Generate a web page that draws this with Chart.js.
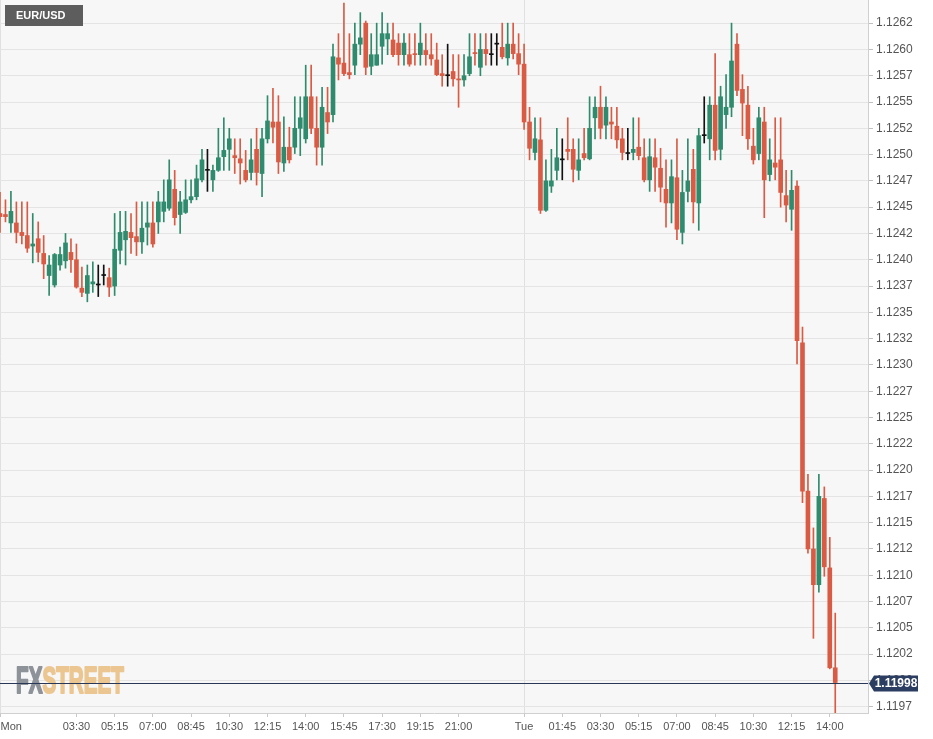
<!DOCTYPE html>
<html><head><meta charset="utf-8">
<script src="https://cdn.jsdelivr.net/npm/chart.js@4.4.1/dist/chart.umd.min.js"></script>
<style>html,body{margin:0;padding:0;background:#fff;}#wrap{width:933px;height:739px;}</style>
</head><body><div id="wrap"><canvas id="c" width="933" height="739"></canvas></div>
<script>
const symbol = 'EUR/USD';
const opens = [1.12444,1.12443,1.12435,1.12435,1.12426,1.12423,1.12413,1.12420,1.12406,1.12385,
1.12376,1.12395,1.12399,1.12407,1.12400,1.12373,1.12368,1.12377,1.12376,1.12385,
1.12383,1.12375,1.12409,1.12419,1.12426,1.12422,1.12417,1.12431,1.12435,1.12436,
1.12446,1.12449,1.12467,1.12443,1.12445,1.12457,1.12460,1.12476,1.12485,1.12476,
1.12485,1.12498,1.12505,1.12499,1.12496,1.12485,1.12483,1.12505,1.12482,1.12515,
1.12531,1.12531,1.12492,1.12507,1.12507,1.12525,1.12515,1.12555,1.12525,1.12507,
1.12540,1.12538,1.12592,1.12587,1.12578,1.12585,1.12605,1.12625,1.12584,1.12585,
1.12603,1.12610,1.12609,1.12606,1.12595,1.12595,1.12596,1.12595,1.12599,1.12595,
1.12590,1.12577,1.12575,1.12579,1.12572,1.12571,1.12577,1.12597,1.12583,1.12600,
1.12595,1.12605,1.12602,1.12592,1.12605,1.12596,1.12586,1.12531,1.12502,1.12514,
1.12447,1.12470,1.12485,1.12495,1.12505,1.12505,1.12485,1.12501,1.12496,1.12535,
1.12545,1.12528,1.12531,1.12527,1.12515,1.12501,1.12502,1.12507,1.12497,1.12476,
1.12497,1.12487,1.12467,1.12454,1.12478,1.12426,1.12465,1.12486,1.12454,1.12518,
1.12515,1.12547,1.12505,1.12538,1.12545,1.12605,1.12562,1.12547,1.12508,1.12501,
1.12531,1.12481,1.12492,1.12495,1.12461,1.12448,1.12470,1.12321,1.12180,1.12125,
1.12091,1.12173,1.12107,1.12012];
const highs = [1.12464,1.12457,1.12465,1.12455,1.12455,1.12455,1.12444,1.12436,1.12423,1.12404,
1.12406,1.12412,1.12425,1.12420,1.12415,1.12393,1.12395,1.12398,1.12395,1.12395,
1.12392,1.12444,1.12446,1.12446,1.12444,1.12455,1.12455,1.12455,1.12455,1.12465,
1.12476,1.12495,1.12485,1.12465,1.12476,1.12476,1.12490,1.12505,1.12505,1.12490,
1.12525,1.12535,1.12525,1.12515,1.12515,1.12504,1.12515,1.12525,1.12525,1.12556,
1.12563,1.12556,1.12536,1.12526,1.12555,1.12555,1.12585,1.12585,1.12555,1.12564,
1.12564,1.12605,1.12615,1.12644,1.12615,1.12625,1.12635,1.12627,1.12615,1.12625,
1.12635,1.12625,1.12625,1.12615,1.12615,1.12615,1.12615,1.12625,1.12615,1.12615,
1.12606,1.12595,1.12605,1.12595,1.12595,1.12595,1.12615,1.12615,1.12615,1.12615,
1.12615,1.12615,1.12625,1.12625,1.12625,1.12615,1.12605,1.12545,1.12535,1.12535,
1.12495,1.12505,1.12525,1.12515,1.12535,1.12515,1.12515,1.12525,1.12555,1.12555,
1.12565,1.12555,1.12545,1.12545,1.12525,1.12525,1.12535,1.12535,1.12515,1.12515,
1.12515,1.12506,1.12495,1.12495,1.12515,1.12485,1.12515,1.12505,1.12525,1.12555,
1.12555,1.12596,1.12565,1.12576,1.12625,1.12615,1.12576,1.12565,1.12525,1.12545,
1.12545,1.12515,1.12535,1.12535,1.12485,1.12485,1.12475,1.12336,1.12196,1.12145,
1.12196,1.12184,1.12136,1.12064];
const lows = [1.12426,1.12436,1.12426,1.12416,1.12415,1.12407,1.12397,1.12398,1.12382,1.12366,
1.12374,1.12390,1.12392,1.12388,1.12373,1.12365,1.12360,1.12369,1.12365,1.12376,
1.12365,1.12366,1.12396,1.12395,1.12406,1.12404,1.12406,1.12414,1.12412,1.12425,
1.12436,1.12447,1.12433,1.12425,1.12444,1.12454,1.12457,1.12474,1.12465,1.12465,
1.12484,1.12485,1.12485,1.12482,1.12472,1.12474,1.12476,1.12471,1.12460,1.12511,
1.12511,1.12482,1.12484,1.12492,1.12501,1.12499,1.12511,1.12520,1.12490,1.12490,
1.12520,1.12531,1.12571,1.12575,1.12572,1.12576,1.12595,1.12576,1.12576,1.12585,
1.12586,1.12595,1.12593,1.12585,1.12585,1.12584,1.12585,1.12585,1.12585,1.12585,
1.12575,1.12565,1.12565,1.12565,1.12545,1.12565,1.12575,1.12585,1.12575,1.12585,
1.12585,1.12585,1.12591,1.12585,1.12591,1.12576,1.12524,1.12495,1.12495,1.12444,
1.12446,1.12464,1.12476,1.12476,1.12495,1.12474,1.12476,1.12495,1.12495,1.12515,
1.12515,1.12515,1.12515,1.12506,1.12495,1.12495,1.12495,1.12495,1.12474,1.12465,
1.12465,1.12455,1.12431,1.12435,1.12419,1.12415,1.12455,1.12435,1.12428,1.12511,
1.12495,1.12495,1.12495,1.12525,1.12536,1.12556,1.12518,1.12505,1.12491,1.12495,
1.12440,1.12475,1.12476,1.12450,1.12436,1.12428,1.12301,1.12169,1.12121,1.12040,
1.12084,1.12099,1.12011,1.11968];
const closes = [1.12441,1.12441,1.12446,1.12426,1.12423,1.12411,1.12415,1.12407,1.12396,1.12395,
1.12405,1.12405,1.12416,1.12400,1.12374,1.12369,1.12385,1.12379,1.12376,1.12385,
1.12374,1.12410,1.12426,1.12427,1.12421,1.12417,1.12430,1.12435,1.12415,1.12455,
1.12455,1.12476,1.12440,1.12455,1.12457,1.12460,1.12477,1.12495,1.12485,1.12485,
1.12497,1.12504,1.12515,1.12497,1.12492,1.12476,1.12495,1.12483,1.12515,1.12532,
1.12526,1.12493,1.12507,1.12495,1.12525,1.12535,1.12555,1.12525,1.12507,1.12545,
1.12531,1.12593,1.12586,1.12577,1.12576,1.12605,1.12611,1.12583,1.12595,1.12595,
1.12615,1.12615,1.12595,1.12595,1.12606,1.12586,1.12595,1.12606,1.12595,1.12591,
1.12576,1.12575,1.12575,1.12572,1.12571,1.12575,1.12593,1.12596,1.12600,1.12596,
1.12595,1.12605,1.12593,1.12605,1.12596,1.12586,1.12531,1.12506,1.12515,1.12447,
1.12475,1.12475,1.12497,1.12495,1.12503,1.12486,1.12495,1.12497,1.12525,1.12545,
1.12525,1.12545,1.12529,1.12514,1.12502,1.12501,1.12505,1.12499,1.12476,1.12498,
1.12488,1.12469,1.12454,1.12479,1.12429,1.12464,1.12475,1.12455,1.12518,1.12518,
1.12547,1.12504,1.12555,1.12545,1.12589,1.12561,1.12549,1.12515,1.12495,1.12535,
1.12476,1.12495,1.12488,1.12464,1.12452,1.12466,1.12323,1.12180,1.12125,1.12091,
1.12175,1.12108,1.12012,1.11998];

const dayNames = ['Mon', 'Tue'];
const slotCount = 160; // 15-minute slots shown on the time axis
const categories = [];
for (let k = 0; k < slotCount; k++) {
  const m = k * 15, d = Math.floor(m / 1440), t = m % 1440;
  categories.push(dayNames[d] + ' ' + String(Math.floor(t / 60)).padStart(2, '0') + ':' + String(t % 60).padStart(2, '0'));
}
const xTickLabels = ['Mon','03:30','05:15','07:00','08:45','10:30','12:15','14:00','15:45','17:30','19:15','21:00','Tue','01:45','03:30','05:15','07:00','08:45','10:30','12:15','14:00'];
const xTickIndex = [0,14,21,28,35,42,49,56,63,70,77,84,96,103,110,117,124,131,138,145,152];
const daySeparators = [0, 96];
const yTickValues = [1.11975,1.12000,1.12025,1.12050,1.12075,1.12100,1.12125,1.12150,1.12175,1.12200,1.12225,1.12250,1.12275,1.12300,1.12325,1.12350,1.12375,1.12400,1.12425,1.12450,1.12475,1.12500,1.12525,1.12550,1.12575,1.12600,1.12625];

const upColor = '#2f8b6d', downColor = '#d95b44', flatColor = '#111111';
const candleColors = opens.map((o, i) => closes[i] > o ? upColor : (closes[i] < o ? downColor : flatColor));
const bodyData = opens.map((o, i) => [o, closes[i]]);
const wickData = lows.map((l, i) => [l, highs[i]]);
const FONT = '"Liberation Sans", Arial, sans-serif';

const plotBg = {
  id: 'plotBg',
  beforeDraw(chart) {
    const { ctx, chartArea: a } = chart;
    ctx.save();
    ctx.fillStyle = '#f7f7f7';
    ctx.fillRect(a.left, a.top, a.right - a.left, a.bottom - a.top);
    ctx.restore();
  }
};

const watermark = {
  id: 'watermark',
  beforeDatasetsDraw(chart) {
    const { ctx, chartArea: a } = chart;
    ctx.save();
    ctx.font = 'bold 37px ' + FONT;
    ctx.textBaseline = 'alphabetic';
    ctx.textAlign = 'left';
    const w1 = ctx.measureText('FX').width, w2 = ctx.measureText('STREET').width;
    const sx = 108 / (w1 + w2);
    ctx.translate(a.left + 16, a.bottom - 20);
    ctx.scale(sx, 1);
    ctx.lineWidth = 2.2;
    ctx.lineJoin = 'round';
    ctx.fillStyle = '#8e9299'; ctx.strokeStyle = '#8e9299';
    ctx.fillText('FX', 0, 0); ctx.strokeText('FX', 0, 0);
    ctx.fillStyle = '#ebc690'; ctx.strokeStyle = '#ebc690';
    ctx.fillText('STREET', w1, 0); ctx.strokeText('STREET', w1, 0);
    ctx.restore();
  }
};

const priceLine = {
  id: 'priceLine',
  afterDatasetsDraw(chart) {
    const { ctx, chartArea: a, scales: { y: ys } } = chart;
    const y = Math.round(ys.getPixelForValue(closes[closes.length - 1])) + 0.5;
    ctx.save();
    ctx.strokeStyle = '#2a3858';
    ctx.lineWidth = 1;
    ctx.beginPath(); ctx.moveTo(a.left, y); ctx.lineTo(a.right, y); ctx.stroke();
    ctx.restore();
  },
  afterDraw(chart) {
    const { ctx, chartArea: a, scales: { y: ys, x: xs } } = chart;
    const last = closes[closes.length - 1];
    const y = Math.round(ys.getPixelForValue(last)) + 0.5;
    ctx.save();
    const x0 = a.right + 1, x1 = a.right + 6, x2 = a.right + 50;
    ctx.fillStyle = '#2c3d62';
    ctx.beginPath();
    ctx.moveTo(x0, y); ctx.lineTo(x1, y - 8); ctx.lineTo(x2, y - 8); ctx.lineTo(x2, y + 8); ctx.lineTo(x1, y + 8); ctx.closePath();
    ctx.fill();
    ctx.fillStyle = '#ffffff';
    ctx.font = 'bold 12px ' + FONT;
    ctx.textAlign = 'center'; ctx.textBaseline = 'middle';
    ctx.fillText(last.toFixed(5), (x1 + x2) / 2, y + 0.5);
    ctx.font = '11px ' + FONT;
    ctx.fillStyle = '#555555';
    xTickIndex.forEach((idx, k) => {
      const x = xs.getPixelForValue(idx);
      ctx.textAlign = k === 0 ? 'left' : 'center';
      ctx.fillText(xTickLabels[k], k === 0 ? x + 0.5 : x, xs.top + 14);
    });
    ctx.fillStyle = '#5d5d5d';
    ctx.fillRect(a.left + 5, a.top + 5, 78, 21);
    ctx.fillStyle = '#ffffff';
    ctx.font = 'bold 11px ' + FONT;
    ctx.textAlign = 'left';
    ctx.fillText(symbol, a.left + 16, a.top + 16);
    ctx.restore();
  }
};

new Chart(document.getElementById('c'), {
  type: 'bar',
  data: {
    labels: categories,
    datasets: [
      { label: 'body', data: bodyData, backgroundColor: candleColors, barThickness: 4, minBarLength: 1, grouped: false, borderWidth: 0, order: 0 },
      { label: 'wick', data: wickData, backgroundColor: candleColors, barThickness: 1, grouped: false, borderWidth: 0, order: 1 }
    ]
  },
  options: {
    responsive: false,
    animation: false,
    layout: { padding: 0 },
    plugins: { legend: { display: false }, tooltip: { enabled: false } },
    scales: {
      x: {
        type: 'category',
        offset: false,
        grid: {
          offset: false,
          color: c => (c.tick && daySeparators.includes(c.tick.value)) ? '#e0e0e0' : 'rgba(0,0,0,0)',
          tickColor: '#c8c8c8',
          tickLength: 4,
          drawTicks: true
        },
        border: { color: '#d0d0d0' },
        ticks: { display: false, autoSkip: false },
        afterBuildTicks: s => { s.ticks = xTickIndex.map(v => ({ value: v })); },
        afterFit: s => { s.height = 26; s.paddingLeft = 0; s.paddingRight = 0; }
      },
      y: {
        position: 'right',
        min: 1.11969,
        max: 1.12647,
        grid: { color: '#e4e4e4', tickColor: '#c0c0c0', tickLength: 5 },
        border: { color: '#d0d0d0' },
        ticks: {
          color: '#555555',
          padding: 3,
          font: { size: 12, family: FONT },
          callback: v => (Math.floor(v * 10000 + 1e-6) / 10000).toFixed(4)
        },
        afterBuildTicks: s => { s.ticks = yTickValues.map(v => ({ value: v })); },
        afterFit: s => { s.width = 65; s.paddingTop = 0; s.paddingBottom = 0; }
      }
    }
  },
  plugins: [plotBg, watermark, priceLine]
});
</script>
</body></html>
